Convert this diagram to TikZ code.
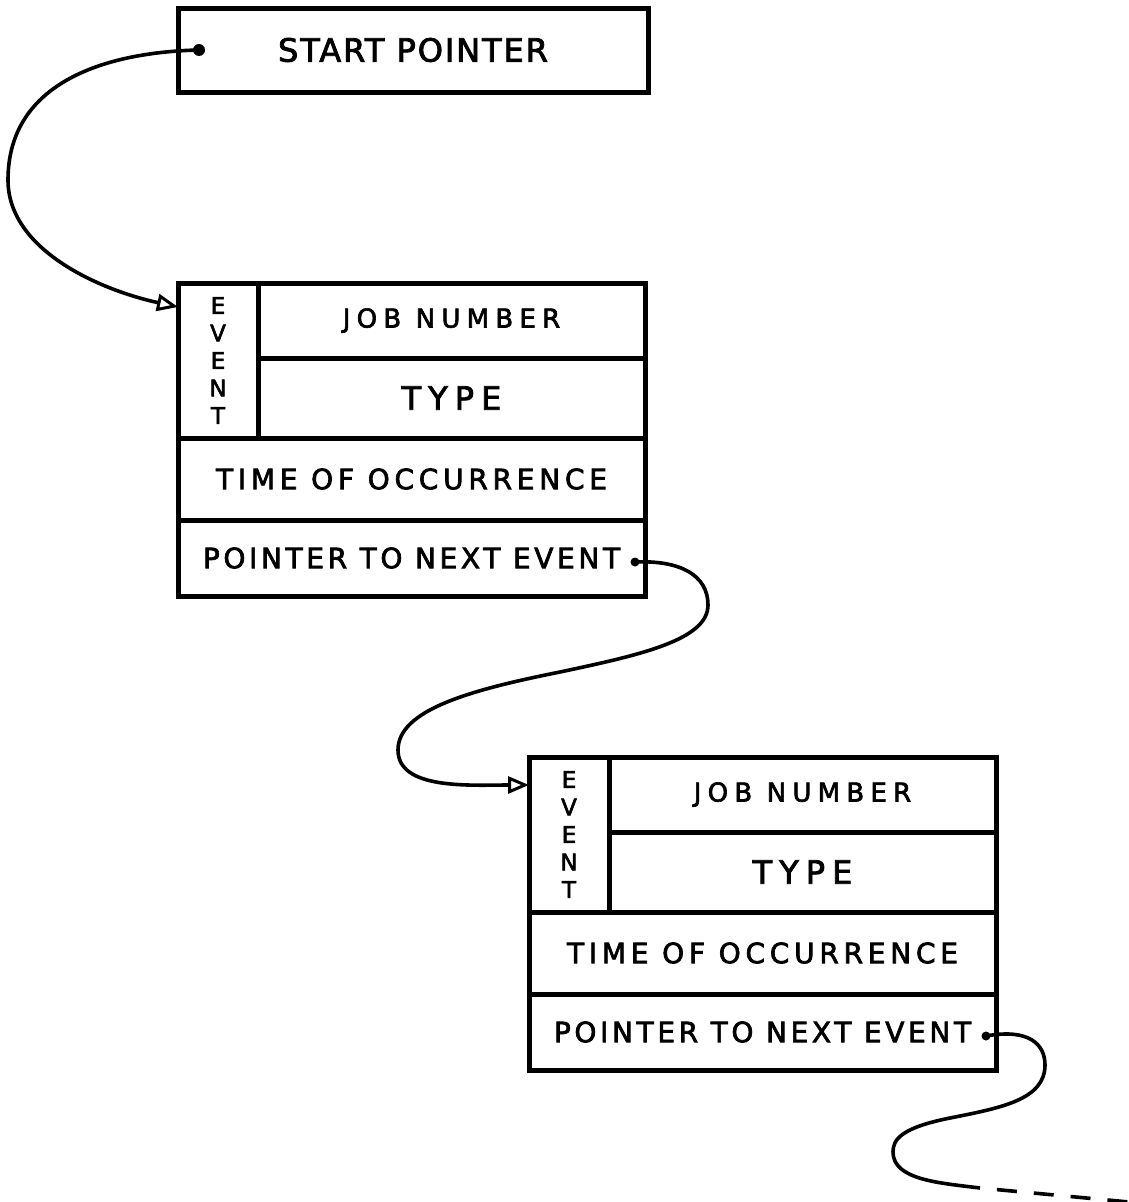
\documentclass[tikz,border=0pt]{standalone}
\usepackage{fontspec}
\setmainfont{DejaVu Sans}
\usetikzlibrary{arrows.meta}

\tikzset{
  cell/.style={draw, line width=5pt, outer sep=0pt, inner sep=0pt,
    anchor=north west, align=center},
  lbl/.style 2 args={font=\fontsize{#1}{#1}\selectfont\addfontfeatures{LetterSpace=#2,FakeBold=2.5}},
  dot/.style={circle, fill, inner sep=0pt, minimum size=9pt},
  wire/.style={line width=3.6pt},
  link/.style={wire, -{Triangle[open, length=21pt, width=17pt, line width=3pt]}}
}

\begin{document}
\begin{tikzpicture}[x=1pt, y=-1pt]
\useasboundingbox (0,0) rectangle (1129,1202);

% head of the list
\node[cell, minimum width=470pt, minimum height=84pt, lbl={32}{6}] (start) at (178,8) {START POINTER};
\node[dot, minimum size=12pt, xshift=21pt] (sdot) at (start.west) {};

% one record per event
\foreach \i/\x/\y in {1/178/283, 2/529/757} {
  \node[cell, minimum width=80pt, minimum height=155pt,
    font=\fontsize{23}{27.5}\selectfont\addfontfeatures{FakeBold=2.5}] (evt\i) at (\x,\y) {E\\V\\E\\N\\T};
  \node[cell, minimum width=387pt, minimum height=75pt, lbl={26}{24}] (job\i) at (evt\i.north east) {JOB NUMBER};
  \node[cell, minimum width=387pt, minimum height=80pt, lbl={32}{22}] (type\i) at (job\i.south west) {TYPE};
  \node[cell, minimum width=467pt, minimum height=82pt, lbl={28}{17}] (time\i) at (evt\i.south west) {TIME OF OCCURRENCE};
  \node[cell, minimum width=467pt, minimum height=76pt, lbl={28}{13}] (next\i) at (time\i.south west) {POINTER TO NEXT EVENT};
  \node[dot, xshift=-10pt, yshift=-4pt] (ndot\i) at (next\i.east) {};
}

% pointers
\draw[link] (sdot.center) .. controls (110,52) and (8,80) .. (8,180)
  .. controls (8,250) and (100,290) .. ([yshift=-24pt]evt1.north west);
\draw[link] (ndot1.center) .. controls (680,560) and (708,575) .. (708,605)
  .. controls (708,640) and (640,655) .. (560,672)
  .. controls (470,690) and (398,710) .. (398,750)
  .. controls (398,790) and (470,785) .. ([yshift=-28pt]evt2.north west);

\coordinate (tail) at (980,1188);
\coordinate (offpage) at (1129,1202);
\draw[wire] (ndot2.center) .. controls (1030,1028) and (1045,1045) .. (1045,1065)
  .. controls (1045,1100) and (1000,1108) .. (950,1118)
  .. controls (900,1128) and (893,1140) .. (893,1152)
  .. controls (893,1180) and (940,1183) .. (tail);
\draw[wire, dash pattern=on 20pt off 17pt, dash phase=20pt] (tail) -- (offpage);
\end{tikzpicture}
\end{document}
